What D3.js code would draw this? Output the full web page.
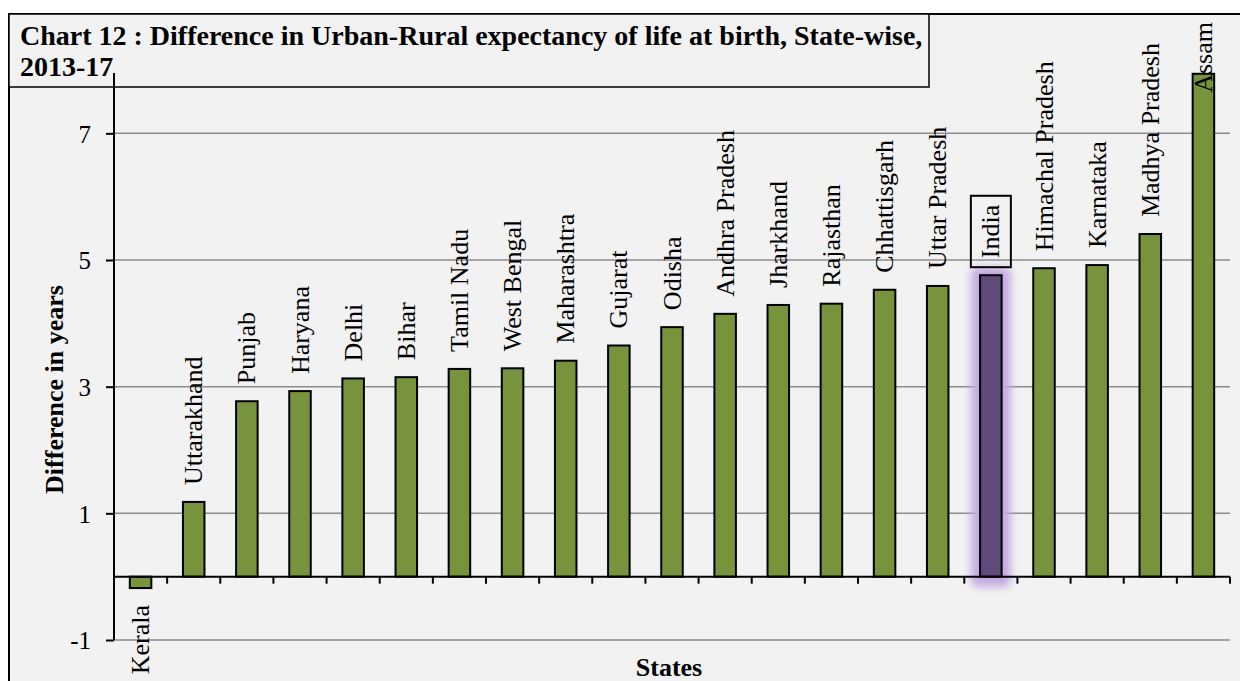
<!DOCTYPE html>
<html>
<head>
<meta charset="utf-8">
<script src="https://cdn.jsdelivr.net/npm/d3@7"></script>
<style>
  html, body { margin: 0; padding: 0; background: #fff; }
  svg { display: block; font-family: "Liberation Serif", "Times New Roman", serif; }
</style>
</head>
<body>
<div id="chart"></div>
<script>
// Chart 12 : urban minus rural life expectancy at birth, 2013-17
const states = [
  'Kerala', 'Uttarakhand', 'Punjab', 'Haryana', 'Delhi', 'Bihar', 'Tamil Nadu',
  'West Bengal', 'Maharashtra', 'Gujarat', 'Odisha', 'Andhra Pradesh', 'Jharkhand',
  'Rajasthan', 'Chhattisgarh', 'Uttar Pradesh', 'India', 'Himachal Pradesh',
  'Karnataka', 'Madhya Pradesh', 'Assam'
];
const difference = [
  -0.18, 1.18, 2.77, 2.93, 3.13, 3.15, 3.28,
  3.29, 3.41, 3.65, 3.94, 4.15, 4.29,
  4.31, 4.53, 4.59, 4.76, 4.87,
  4.92, 5.41, 7.94
];
const yTicks = [-1, 1, 3, 5, 7];
const highlight = 'India';

const titleLines = [
  'Chart 12 : Difference in Urban-Rural expectancy of life at birth, State-wise,',
  '2013-17'
];
const yTitle = 'Difference in years';
const xTitle = 'States';

const width = 1240;
const height = 681;
const plot = { left: 114, right: 1230, top: 70, bottom: 640 };

const svg = d3.select('#chart').append('svg')
  .attr('width', width)
  .attr('height', height);

const defs = svg.append('defs');
defs.append('filter')
  .attr('id', 'glow')
  .attr('x', '-100%').attr('y', '-20%')
  .attr('width', '300%').attr('height', '140%')
  .append('feGaussianBlur')
  .attr('stdDeviation', 4);

// outer frame
svg.append('rect')
  .attr('x', 9).attr('y', 14)
  .attr('width', width + 20).attr('height', height)
  .attr('fill', '#f2f2f2')
  .attr('stroke', '#000')
  .attr('stroke-width', 2);

// title box
svg.append('rect')
  .attr('x', 9).attr('y', 14)
  .attr('width', 920).attr('height', 73)
  .attr('fill', '#f2f2f2')
  .attr('stroke', '#000')
  .attr('stroke-width', 1.5);

const title = svg.append('text')
  .attr('font-weight', 'bold')
  .attr('font-size', 28)
  .attr('fill', '#000');
title.selectAll('tspan')
  .data(titleLines)
  .join('tspan')
  .attr('x', 20)
  .attr('y', (d, i) => 45 + i * 31)
  .text((d) => d);

const x = d3.scaleBand()
  .domain(states)
  .range([plot.left, plot.right])
  .paddingInner(0.595)
  .paddingOuter(0.2975);

const y = d3.scaleLinear()
  .domain([-1, 8])
  .range([plot.bottom, plot.top]);

// gridlines
svg.append('g')
  .selectAll('line')
  .data(yTicks)
  .join('line')
  .attr('x1', plot.left)
  .attr('x2', plot.right)
  .attr('y1', (d) => y(d))
  .attr('y2', (d) => y(d))
  .attr('stroke', '#8c8c8c')
  .attr('stroke-width', 1.5);

// y axis
const yAxis = d3.axisLeft(y)
  .tickValues(yTicks)
  .tickSize(8)
  .tickPadding(15)
  .tickFormat((d) => String(d));

const yAxisG = svg.append('g')
  .attr('transform', `translate(${plot.left},0)`)
  .call(yAxis);
yAxisG.select('.domain').remove();
yAxisG.selectAll('.tick line').attr('stroke', '#000').attr('stroke-width', 2);
yAxisG.selectAll('.tick text')
  .attr('font-family', '"Liberation Serif", serif')
  .attr('font-size', 25)
  .attr('fill', '#000')
  .attr('dy', '0.35em');

// India glow
const hiIndex = states.indexOf(highlight);
svg.append('rect')
  .attr('x', x(highlight) - 9)
  .attr('y', y(difference[hiIndex]) - 8)
  .attr('width', x.bandwidth() + 18)
  .attr('height', y(0) - y(difference[hiIndex]) + 18)
  .attr('rx', 6)
  .attr('fill', '#c3a8e2')
  .attr('filter', 'url(#glow)');

// bars
svg.append('g')
  .selectAll('rect')
  .data(states)
  .join('rect')
  .attr('x', (d) => x(d))
  .attr('y', (d, i) => y(Math.max(0, difference[i])))
  .attr('width', x.bandwidth())
  .attr('height', (d, i) => Math.abs(y(difference[i]) - y(0)))
  .attr('fill', (d) => (d === highlight ? '#604a7b' : '#77933c'))
  .attr('stroke', '#000')
  .attr('stroke-width', 2);

// vertical axis line and category axis
svg.append('line')
  .attr('x1', plot.left).attr('x2', plot.left)
  .attr('y1', plot.top + 3).attr('y2', plot.bottom)
  .attr('stroke', '#000')
  .attr('stroke-width', 2);

const xAxisG = svg.append('g');
xAxisG.append('line')
  .attr('x1', plot.left).attr('x2', plot.right)
  .attr('y1', y(0)).attr('y2', y(0))
  .attr('stroke', '#000')
  .attr('stroke-width', 2);
xAxisG.selectAll('.cat-tick')
  .data(states)
  .join('line')
  .attr('class', 'cat-tick')
  .attr('x1', (d) => x(d) + x.bandwidth() / 2 + x.step() / 2)
  .attr('x2', (d) => x(d) + x.bandwidth() / 2 + x.step() / 2)
  .attr('y1', y(0))
  .attr('y2', y(0) + 7)
  .attr('stroke', '#000')
  .attr('stroke-width', 2);

// category labels, rotated, sitting above (or below) each bar
const labelGap = 17;
const labelTop = 22;
const labels = svg.append('g')
  .selectAll('text')
  .data(states)
  .join('text')
  .attr('font-size', 26)
  .attr('fill', '#000')
  .attr('dy', '0.33em')
  .text((d) => d);

labels.each(function(d, i) {
  const cx = x(d) + x.bandwidth() / 2;
  const len = this.getComputedTextLength();
  const v = difference[i];
  let yy;
  let anchor;
  if (v < 0) {
    yy = y(v) + labelGap;
    anchor = 'end';
  } else {
    yy = Math.max(y(v) - labelGap, labelTop + len);
    anchor = 'start';
  }
  d3.select(this)
    .attr('text-anchor', anchor)
    .attr('transform', `translate(${cx},${yy}) rotate(-90)`);
  if (d === highlight) {
    svg.append('rect')
      .attr('x', cx - 20)
      .attr('y', yy - len - 9)
      .attr('width', 40)
      .attr('height', len + 18)
      .attr('fill', 'none')
      .attr('stroke', '#000')
      .attr('stroke-width', 2);
  }
});

// axis titles
svg.append('text')
  .attr('transform', `translate(63,${(282 + 497) / 2}) rotate(-90)`)
  .attr('text-anchor', 'middle')
  .attr('font-weight', 'bold')
  .attr('font-size', 26)
  .text(yTitle);

svg.append('text')
  .attr('x', 669)
  .attr('y', 676)
  .attr('text-anchor', 'middle')
  .attr('font-weight', 'bold')
  .attr('font-size', 26)
  .text(xTitle);
</script>
</body>
</html>
